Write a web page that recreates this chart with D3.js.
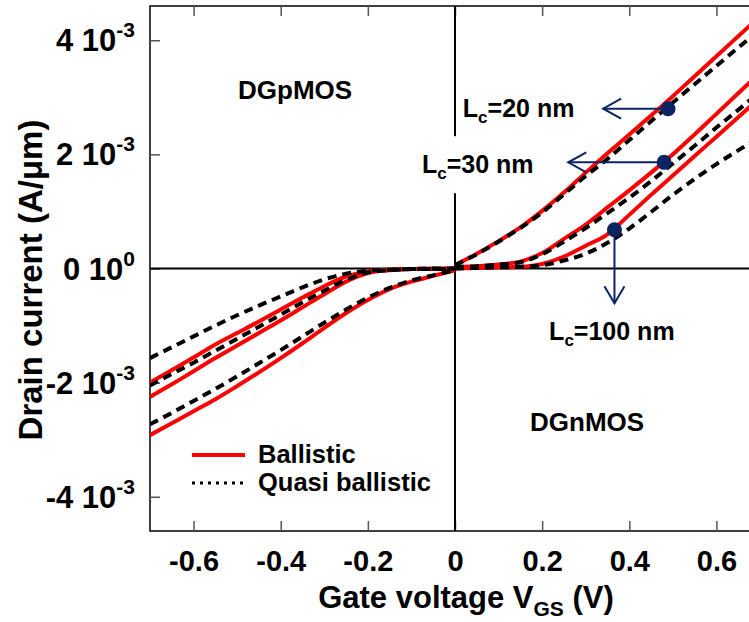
<!DOCTYPE html>
<html>
<head>
<meta charset="utf-8">
<script src="https://cdn.jsdelivr.net/npm/d3@7"></script>
<style>
  body { margin: 0; background: #fff; }
  svg { display: block; font-family: "Liberation Sans", Arial, sans-serif; font-weight: bold; }
</style>
</head>
<body>
<svg width="749" height="622"></svg>
<script>
// gate voltage grids (V)
const vN = [0, 0.05, 0.1, 0.15, 0.2, 0.25, 0.3, 0.35, 0.4, 0.45, 0.5, 0.55, 0.6, 0.65, 0.7];
const vP = [-0.7, -0.65, -0.6, -0.55, -0.5, -0.45, -0.4, -0.35, -0.3, -0.25, -0.2, -0.15, -0.1, -0.05, 0];

// drain current, in units of 1e-3 A/um
// DGnMOS
const nBal20 = [0.06, 0.26, 0.48, 0.72, 1.01, 1.33, 1.68, 2.02, 2.35, 2.68, 3.02, 3.37, 3.72, 4.07, 4.42];
const nQb20 = [0.06, 0.25, 0.47, 0.71, 0.98, 1.30, 1.62, 1.92, 2.25, 2.58, 2.91, 3.23, 3.55, 3.87, 4.19];
const nBal30 = [0.03, 0.04, 0.07, 0.12, 0.27, 0.52, 0.77, 1.07, 1.37, 1.68, 2.0, 2.35, 2.71, 3.07, 3.43];
const nQb30 = [0.03, 0.04, 0.07, 0.11, 0.25, 0.47, 0.71, 0.97, 1.24, 1.53, 1.84, 2.15, 2.47, 2.78, 3.10];
const nBal100 = [0, 0.01, 0.02, 0.03, 0.08, 0.21, 0.40, 0.60, 0.94, 1.29, 1.63, 1.97, 2.31, 2.65, 2.99];
const nQb100 = [0, 0.01, 0.02, 0.03, 0.06, 0.14, 0.26, 0.45, 0.70, 0.99, 1.29, 1.57, 1.83, 2.07, 2.30];
// DGpMOS
const pBal20 = [-2.92, -2.71, -2.50, -2.29, -2.06, -1.82, -1.57, -1.31, -1.04, -0.78, -0.55, -0.36, -0.23, -0.13, -0.03];
const pQb20 = [-2.73, -2.53, -2.32, -2.11, -1.89, -1.66, -1.43, -1.19, -0.95, -0.72, -0.51, -0.34, -0.21, -0.12, -0.03];
const pBal30 = [-2.25, -2.03, -1.80, -1.57, -1.35, -1.13, -0.91, -0.68, -0.45, -0.23, -0.08, -0.03, -0.01, -0.01, 0];
const pQb30 = [-2.05, -1.85, -1.65, -1.44, -1.23, -1.02, -0.81, -0.59, -0.39, -0.20, -0.07, -0.03, -0.01, -0.01, 0];
const pBal100 = [-2.0, -1.78, -1.56, -1.33, -1.13, -0.93, -0.72, -0.51, -0.31, -0.14, -0.05, -0.02, -0.01, 0, 0];
const pQb100 = [-1.57, -1.38, -1.19, -1.0, -0.82, -0.65, -0.49, -0.33, -0.19, -0.09, -0.04, -0.02, -0.01, 0, 0];

// axis ticks
const xTicks = [-0.6, -0.4, -0.2, 0, 0.2, 0.4, 0.6];
const yTicks = [-4, -2, 0, 2, 4];
const yTickMant = ["-4", "-2", "0", "2", "4"];
const yTickExp = ["-3", "-3", "0", "-3", "-3"];

// annotations: dot on curve, arrow tip, label anchor (data units)
const annLabels = ["20", "30", "100"];
const annDotV = [0.489, 0.48, 0.366];
const annDotI = [2.80, 1.86, 0.68];
const annTipV = [0.34, 0.26, 0.366];
const annTipI = [2.80, 1.86, -0.61];
const annTextV = [0.018, -0.076, 0.216];
const annTextI = [2.66, 1.67, -1.26];

const width = 749;
const height = 622;
const plot = { left: 150, right: 760, top: 6, bottom: 531 };
const navy = "#0c2461";

const svg = d3.select("svg");

const x = d3.scaleLinear().domain([-0.7, 0.7]).range([plot.left, plot.right]);
const y = d3.scaleLinear().domain([-4.6, 4.6]).range([plot.bottom, plot.top]);

svg.append("defs").append("clipPath").attr("id", "clip")
  .append("rect")
  .attr("x", plot.left).attr("y", plot.top)
  .attr("width", plot.right - plot.left).attr("height", plot.bottom - plot.top);

// frame
svg.append("rect")
  .attr("x", plot.left).attr("y", plot.top)
  .attr("width", plot.right - plot.left).attr("height", plot.bottom - plot.top)
  .attr("fill", "none").attr("stroke", "#000").attr("stroke-width", 1.5);

// inward ticks
const xAxisB = svg.append("g")
  .attr("transform", `translate(0, ${plot.bottom})`)
  .call(d3.axisBottom(x).tickValues(xTicks).tickSize(-10).tickSizeOuter(0).tickPadding(18)
    .tickFormat((d) => String(d)));
const xAxisT = svg.append("g")
  .attr("transform", `translate(0, ${plot.top})`)
  .call(d3.axisTop(x).tickValues(xTicks).tickSize(-10).tickSizeOuter(0).tickFormat(""));
const yAxisL = svg.append("g")
  .attr("transform", `translate(${plot.left}, 0)`)
  .call(d3.axisLeft(y).tickValues(yTicks).tickSize(-10).tickSizeOuter(0).tickFormat(""));

[xAxisB, xAxisT, yAxisL].forEach((g) => {
  g.select(".domain").remove();
  g.selectAll(".tick line").attr("stroke", "#555").attr("stroke-width", 1.5);
});
xAxisB.selectAll(".tick text")
  .attr("font-size", 29)
  .attr("font-family", "Liberation Sans, Arial, sans-serif")
  .attr("font-weight", "bold")
  .attr("fill", "#000")
  .attr("dy", "0.75em");

// y tick labels with exponents
const yLab = svg.append("g")
  .selectAll("text")
  .data(yTicks)
  .enter()
  .append("text")
  .attr("x", 135)
  .attr("y", (d) => y(d) + 11)
  .attr("text-anchor", "end")
  .attr("font-size", 31);
yLab.append("tspan").text((d, i) => yTickMant[i] + " 10");
yLab.append("tspan")
  .attr("font-size", 21)
  .attr("dy", -14)
  .text((d, i) => yTickExp[i]);

// zero lines
svg.append("line")
  .attr("x1", plot.left).attr("x2", plot.right)
  .attr("y1", y(0)).attr("y2", y(0))
  .attr("stroke", "#000").attr("stroke-width", 2);
svg.append("line")
  .attr("x1", x(0)).attr("x2", x(0))
  .attr("y1", plot.top).attr("y2", plot.bottom)
  .attr("stroke", "#000").attr("stroke-width", 2);

// curves
const line = d3.line()
  .x((d) => x(d[0]))
  .y((d) => y(d[1]))
  .curve(d3.curveMonotoneX);

const ballistic = [
  d3.zip(vN, nBal20), d3.zip(vN, nBal30), d3.zip(vN, nBal100),
  d3.zip(vP, pBal20), d3.zip(vP, pBal30), d3.zip(vP, pBal100),
];
const quasi = [
  d3.zip(vN, nQb20), d3.zip(vN, nQb30), d3.zip(vN, nQb100),
  d3.zip(vP, pQb20), d3.zip(vP, pQb30), d3.zip(vP, pQb100),
];

const curves = svg.append("g").attr("clip-path", "url(#clip)");
curves.selectAll(".bal")
  .data(ballistic)
  .enter()
  .append("path")
  .attr("class", "bal")
  .attr("d", line)
  .attr("fill", "none")
  .attr("stroke", "#ff0000")
  .attr("stroke-width", 4);
curves.selectAll(".qb")
  .data(quasi)
  .enter()
  .append("path")
  .attr("class", "qb")
  .attr("d", line)
  .attr("fill", "none")
  .attr("stroke", "#000")
  .attr("stroke-width", 4)
  .attr("stroke-dasharray", "9,6");

// region labels
svg.append("text").attr("x", 238).attr("y", 99).attr("font-size", 26).text("DGpMOS");
svg.append("text").attr("x", 530).attr("y", 431).attr("font-size", 26).text("DGnMOS");

// Lc labels with white backing
const ann = svg.append("g");
annLabels.forEach((lab, i) => {
  const tx = x(annTextV[i]);
  const ty = y(annTextI[i]);
  const g = ann.append("g");
  const bg = g.append("rect").attr("fill", "#fff");
  const t = g.append("text").attr("x", tx).attr("y", ty).attr("font-size", 25);
  t.append("tspan").text("L");
  t.append("tspan").attr("font-size", 17).attr("dy", 6).text("c");
  t.append("tspan").attr("dy", -6).text(`=${lab} nm`);
  const bb = t.node().getBBox();
  bg.attr("x", bb.x - 4).attr("y", bb.y - 14)
    .attr("width", bb.width + 8).attr("height", bb.height + 24);
});

// arrows and dots
annLabels.forEach((lab, i) => {
  const x0 = x(annDotV[i]), y0 = y(annDotI[i]);
  const x1 = x(annTipV[i]), y1 = y(annTipI[i]);
  const horiz = Math.abs(y1 - y0) < 1;
  ann.append("line")
    .attr("x1", x0).attr("y1", y0).attr("x2", x1).attr("y2", y1)
    .attr("stroke", navy).attr("stroke-width", 2);
  const head = horiz
    ? [[x1 + 18, y1 - 10], [x1, y1], [x1 + 18, y1 + 10]]
    : [[x1 - 10, y1 - 17], [x1, y1], [x1 + 10, y1 - 17]];
  ann.append("path")
    .attr("d", d3.line()(head))
    .attr("fill", "none")
    .attr("stroke", navy)
    .attr("stroke-width", 2);
  ann.append("circle")
    .attr("cx", x0).attr("cy", y0).attr("r", 7.5)
    .attr("fill", navy);
});

// legend
const legend = svg.append("g");
legend.append("line")
  .attr("x1", 192).attr("x2", 245).attr("y1", 455).attr("y2", 455)
  .attr("stroke", "#ff0000").attr("stroke-width", 4);
legend.append("line")
  .attr("x1", 192).attr("x2", 245).attr("y1", 483).attr("y2", 483)
  .attr("stroke", "#000").attr("stroke-width", 3).attr("stroke-dasharray", "3,5");
legend.append("text").attr("x", 258).attr("y", 463).attr("font-size", 25.5).text("Ballistic");
legend.append("text").attr("x", 258).attr("y", 491).attr("font-size", 25.5).text("Quasi ballistic");

// axis titles
const xt = svg.append("text")
  .attr("x", 466).attr("y", 608)
  .attr("text-anchor", "middle")
  .attr("font-size", 31);
xt.append("tspan").text("Gate voltage V");
xt.append("tspan").attr("font-size", 21).attr("dy", 8).text("GS");
xt.append("tspan").attr("dy", -8).text(" (V)");

svg.append("text")
  .attr("transform", `translate(42, 280) rotate(-90)`)
  .attr("text-anchor", "middle")
  .attr("font-size", 33)
  .text("Drain current (A/\u03bcm)");
</script>
</body>
</html>
